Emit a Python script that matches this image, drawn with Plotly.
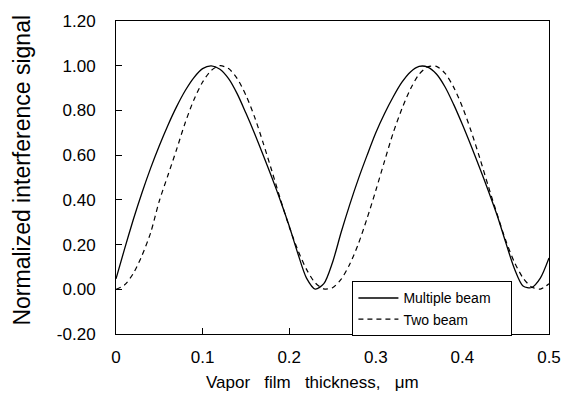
import plotly.graph_objects as go

# Vapor film thickness (um)
thickness = [0.00, 0.01, 0.02, 0.03, 0.04, 0.05, 0.06, 0.07, 0.08, 0.09,
             0.10, 0.11, 0.12, 0.13, 0.14, 0.15, 0.16, 0.17, 0.18, 0.19,
             0.20, 0.21, 0.22, 0.23, 0.24, 0.25, 0.26, 0.27, 0.28, 0.29,
             0.30, 0.31, 0.32, 0.33, 0.34, 0.35, 0.36, 0.37, 0.38, 0.39,
             0.40, 0.41, 0.42, 0.43, 0.44, 0.45, 0.46, 0.47, 0.48, 0.49,
             0.50]

multiple_beam = [0.047, 0.182, 0.312, 0.432, 0.542, 0.642, 0.734, 0.817, 0.889, 0.947,
                 0.987, 0.999, 0.984, 0.942, 0.874, 0.788, 0.697, 0.600, 0.500, 0.395,
                 0.283, 0.160, 0.050, 0.001, 0.025, 0.120, 0.255, 0.380, 0.495, 0.600,
                 0.700, 0.785, 0.860, 0.925, 0.972, 0.997, 0.994, 0.963, 0.905, 0.826,
                 0.737, 0.642, 0.543, 0.440, 0.332, 0.210, 0.093, 0.015, 0.008, 0.050,
                 0.140]

two_beam = [0.000, 0.020, 0.071, 0.151, 0.253, 0.395, 0.510, 0.626, 0.746, 0.848,
            0.927, 0.979, 1.000, 0.987, 0.942, 0.868, 0.771, 0.654, 0.529, 0.401,
            0.280, 0.175, 0.089, 0.029, 0.002, 0.007, 0.045, 0.113, 0.205, 0.318,
            0.442, 0.572, 0.699, 0.806, 0.896, 0.962, 0.995, 0.997, 0.966, 0.903,
            0.816, 0.708, 0.588, 0.460, 0.337, 0.219, 0.122, 0.051, 0.010, 0.001,
            0.025]

x_tick_vals = [0, 0.1, 0.2, 0.3, 0.4, 0.5]
x_tick_text = ["0", "0.1", "0.2", "0.3", "0.4", "0.5"]
y_tick_vals = [-0.2, 0.0, 0.2, 0.4, 0.6, 0.8, 1.0, 1.2]
y_tick_text = ["-0.20", "0.00", "0.20", "0.40", "0.60", "0.80", "1.00", "1.20"]

FONT = "Liberation Sans, Arial, Helvetica, sans-serif"

fig = go.Figure()
fig.add_trace(go.Scatter(x=thickness, y=multiple_beam, mode="lines",
                         name="Multiple beam\u00a0\u00a0\u00a0\u00a0",
                         line=dict(color="black", width=1.3, shape="spline", smoothing=0.8)))
fig.add_trace(go.Scatter(x=thickness, y=two_beam, mode="lines",
                         name="Two beam",
                         line=dict(color="black", width=1.2, dash="5px,4px", shape="spline", smoothing=0.8)))

axis_common = dict(showline=True, linecolor="black", linewidth=1, mirror=True,
                   ticks="inside", ticklen=6, tickcolor="black", tickwidth=1,
                   showgrid=False, zeroline=False,
                   tickfont=dict(family=FONT, size=17, color="black"))

fig.update_xaxes(range=[0, 0.5], tickmode="array", tickvals=x_tick_vals, ticktext=x_tick_text,
                 ticklabelstandoff=8, **axis_common)
fig.update_yaxes(range=[-0.2, 1.2], tickmode="array", tickvals=y_tick_vals, ticktext=y_tick_text,
                 ticklabelstandoff=16, **axis_common)

fig.update_layout(
    width=573, height=400,
    margin=dict(l=116, r=21, t=16, b=66),
    plot_bgcolor="white", paper_bgcolor="white",
    font=dict(family=FONT, color="black"),
    showlegend=True,
    legend=dict(x=0.546, y=0.168, xanchor="left", yanchor="top",
                bordercolor="black", borderwidth=1, bgcolor="white",
                font=dict(family=FONT, size=14, color="black"),
                itemwidth=40, tracegroupgap=0),
    annotations=[
        dict(text="Vapor\u00a0\u00a0 film\u00a0\u00a0 thickness,\u00a0\u00a0 \u03bcm", xref="paper", yref="paper",
             x=0.454, y=-0.154, xanchor="center", yanchor="middle", showarrow=False,
             font=dict(family=FONT, size=17, color="black")),
        dict(text="Normalized interference signal", xref="paper", yref="paper",
             x=-0.216, y=0.5236, xanchor="center", yanchor="middle", showarrow=False,
             textangle=-90, font=dict(family=FONT, size=23, color="black")),
    ],
)

fig.write_html("out.html")
